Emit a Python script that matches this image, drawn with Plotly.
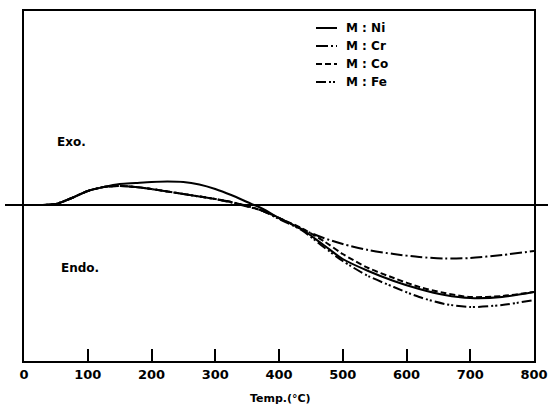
import plotly.graph_objects as go

# Temperature grid (°C)
temps = [0, 25, 50, 75, 100, 125, 150, 175, 200, 225, 250, 275, 300, 325, 350, 375,
         400, 435, 470, 500, 540, 580, 620, 660, 700, 750, 800]

# DTA signal (arbitrary units, 0 = baseline)
ni = [0, 0, 1, 7, 14, 18, 21, 22, 23, 23.5, 23, 20.5, 16, 10, 3, -4,
      -13, -24, -40, -54, -66, -76, -84, -90, -93, -92, -87]
cr = [0, 0, 1, 7, 14, 18, 19, 18, 16, 13.5, 11, 8.5, 6, 3, -1, -6,
      -13, -24, -33, -39, -45, -49, -52, -53.5, -53, -50, -46]
co = [0, 0, 1, 7, 14, 18, 19, 18, 16, 13.5, 11, 8.5, 6, 3, -1, -6,
      -13, -23, -36, -49, -63, -73, -82, -88, -92, -91, -87]
fe = [0, 0, 1, 7, 14, 18, 19, 18, 16, 13.5, 11, 8.5, 6, 2.5, -1.5, -6,
      -14, -25, -42, -56, -71, -82, -92, -99, -102, -100, -95]

series_names = ["M : Ni", "M : Cr", "M : Co", "M : Fe"]
series_vals = [ni, cr, co, fe]
dashes = ["solid", "12px,3px,2px,3px", "6px,3px", "10px,3px,2px,2px,2px,3px"]

x_ticks = [0, 100, 200, 300, 400, 500, 600, 700, 800]
x_title = "Temp.(°C)"

L, R, T, B = 24, 534, 11, 361
W, H = float(R - L), float(B - T)

fig = go.Figure()
for name, vals, d in zip(series_names, series_vals, dashes):
    fig.add_trace(go.Scatter(x=temps, y=vals, mode="lines", name=name,
                             line=dict(color="black", width=2, dash=d, shape="spline", smoothing=0.8),
                             showlegend=False))

FONT = "DejaVu Sans"

# baseline extending past the frame
fig.add_shape(type="line", xref="paper", yref="y", x0=(5 - L) / W, x1=(550 - L) / W, y0=0, y1=0,
              line=dict(color="black", width=2))

# manual legend
leg_y = [28, 46, 64, 82]  # pixel rows
for name, d, py in zip(series_names, dashes, leg_y):
    yp = (B - py) / H
    fig.add_shape(type="line", xref="paper", yref="paper",
                  x0=(316 - L) / W, x1=(337 - L) / W, y0=yp, y1=yp,
                  line=dict(color="black", width=2, dash=d))
    fig.add_annotation(xref="paper", yref="paper", x=(344 - L) / W, y=yp,
                       text="<b>" + name + "</b>", showarrow=False, xanchor="left", yanchor="middle",
                       font=dict(family=FONT, size=12, color="black"))

fig.add_annotation(xref="paper", yref="paper", x=(55 - L) / W, y=(B - 142) / H,
                   text="<b>Exo.</b>", showarrow=False, xanchor="left", yanchor="middle",
                   font=dict(family=FONT, size=12, color="black"))
fig.add_annotation(xref="paper", yref="paper", x=(59 - L) / W, y=(B - 268) / H,
                   text="<b>Endo.</b>", showarrow=False, xanchor="left", yanchor="middle",
                   font=dict(family=FONT, size=12, color="black"))
fig.add_annotation(xref="paper", yref="paper", x=(280 - L) / W, y=(B - 398) / H,
                   text="<b>" + x_title + "</b>", showarrow=False, xanchor="center", yanchor="middle",
                   font=dict(family=FONT, size=11, color="black"))

fig.update_xaxes(range=[0, 800], tickvals=x_ticks, ticktext=["<b>%d</b>" % t for t in x_ticks],
                 ticks="inside", ticklen=12, tickwidth=2, tickcolor="black",
                 showline=True, linecolor="black", linewidth=2, mirror=True,
                 showgrid=False, zeroline=False, ticklabeloverflow="allow", automargin=False,
                 tickfont=dict(family=FONT, size=13, color="black"))
fig.update_yaxes(range=[-156, 194], showticklabels=False, ticks="", automargin=False,
                 showline=True, linecolor="black", linewidth=2, mirror=True,
                 showgrid=False, zeroline=False)

fig.update_layout(width=548, height=413,
                  margin=dict(l=L, r=548 - R, t=T, b=413 - B, autoexpand=False),
                  paper_bgcolor="white", plot_bgcolor="white", showlegend=False)

fig.write_html("out.html")
